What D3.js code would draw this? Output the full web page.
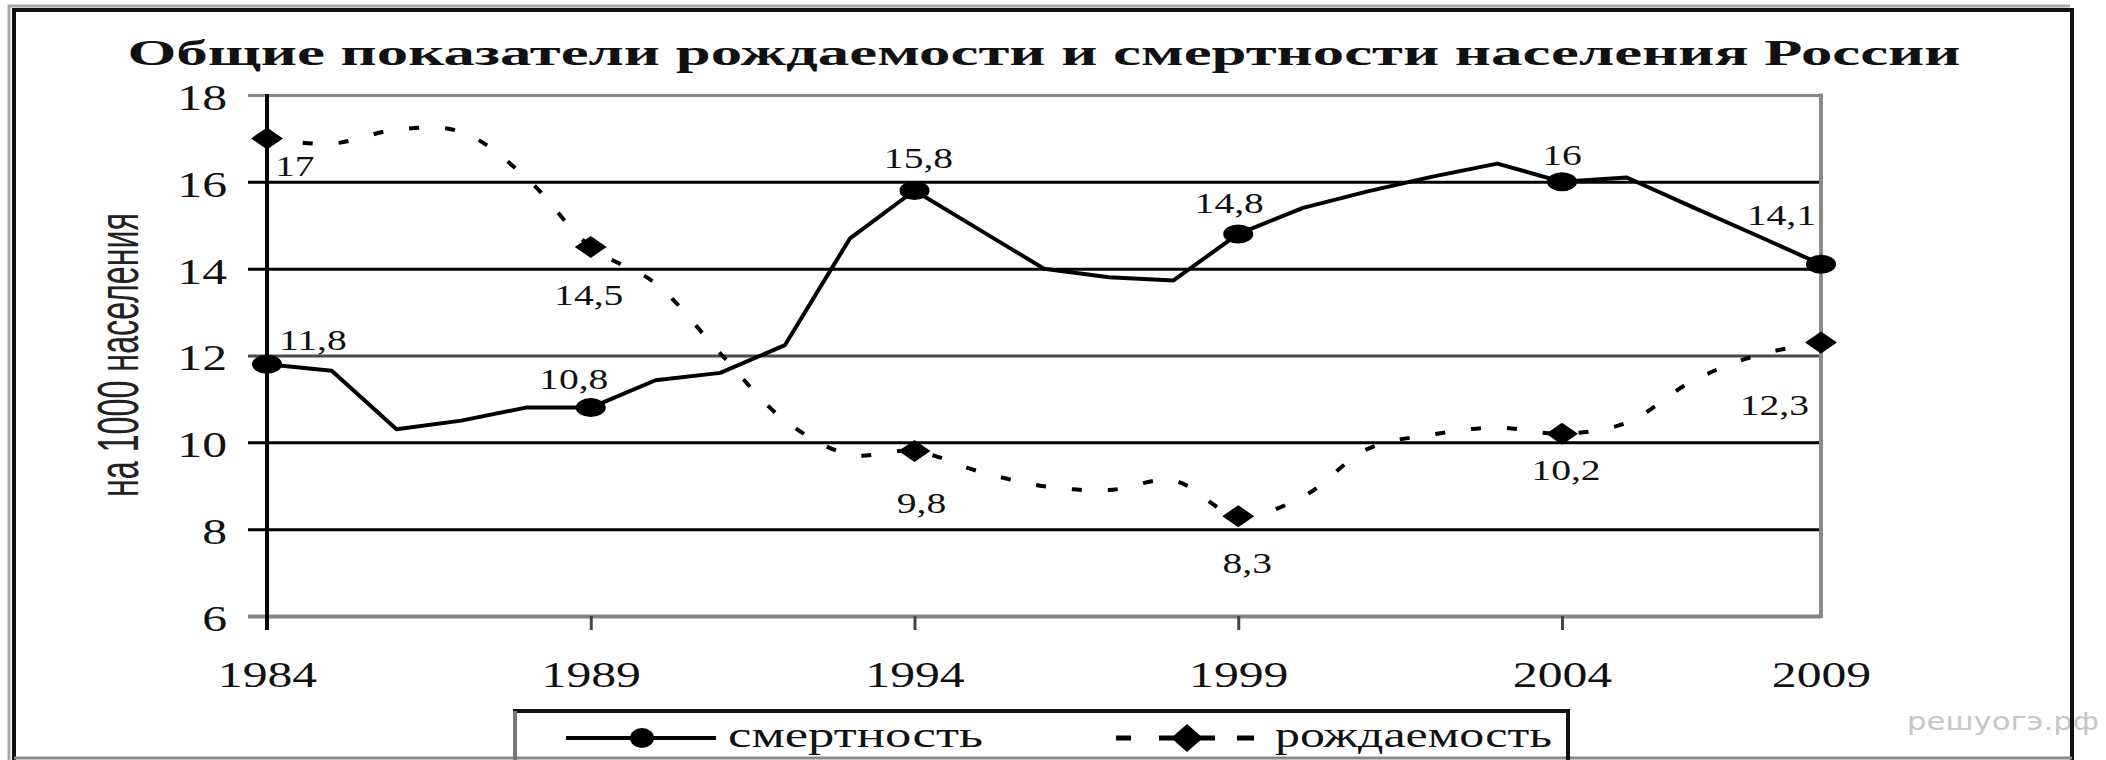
<!DOCTYPE html>
<html>
<head>
<meta charset="utf-8">
<script src="https://cdn.jsdelivr.net/npm/d3@7"></script>
<style>
  body { margin: 0; background: #fff; }
  svg { display: block; }
</style>
</head>
<body>
<div id="container"></div>
<script>
///sizes
let w = 2106,
h = 760;

///data
const years = [1984, 1985, 1986, 1987, 1988, 1989, 1990, 1991, 1992, 1993, 1994, 1995, 1996,
  1997, 1998, 1999, 2000, 2001, 2002, 2003, 2004, 2005, 2006, 2007, 2009];
const deaths = [11.8, 11.65, 10.3, 10.5, 10.8, 10.8, 11.43, 11.6, 12.24, 14.69, 15.8, 14.9, 14.0,
  13.8, 13.73, 14.8, 15.4, 15.78, 16.12, 16.42, 16.0, 16.1, 15.43, 14.77, 14.1];
const births = [17.0, 16.88, 17.2, 17.15, 16.1, 14.5, 13.66, 12.05, 10.5, 9.72, 9.8, 9.33, 8.99,
  8.9, 9.12, 8.3, 8.75, 9.85, 10.18, 10.34, 10.2, 10.45, 11.4, 12.0, 12.3];
const markerYears = [1984, 1989, 1994, 1999, 2004, 2009];
const yTicks = [6, 8, 10, 12, 14, 16, 18];
const title = "Общие показатели рождаемости и смертности населения России";
const yTitle = "на 1000 населения";
const seriesNames = ["смертность", "рождаемость"];

const serif = "'Liberation Serif', 'Times New Roman', serif";

///svg
let svg = d3.select("#container").
append("svg").
attr("width", w).
attr("height", h);

///scales
let x = d3.scalePoint().
domain(years).
range([267, 1821]);
let y = d3.scaleLinear().
domain([6, 18]).
range([616, 95]);

///watermark (under the frame)
svg.append("text").
attr("x", 1907).
attr("y", 730).
attr("textLength", 192).
attr("lengthAdjust", "spacingAndGlyphs").
style("font-family", "'DejaVu Sans', sans-serif").
style("font-size", "25px").
style("fill", "#c6c6c6").
text("решуогэ.рф");

///outer frame
svg.append("path").
attr("d", "M9,760 V6 H2070").
attr("fill", "none").
attr("stroke", "#a8a8a8").
attr("stroke-width", 3);
svg.append("path").
attr("d", "M14,760 V10 H2072 V760").
attr("fill", "none").
attr("stroke", "#111").
attr("stroke-width", 4);
svg.append("line").
attr("x1", 14).attr("x2", 2072).
attr("y1", 758).attr("y2", 758).
attr("stroke", "#8a8a8a").
attr("stroke-width", 3);

///title
svg.append("text").
attr("x", 1044).
attr("y", 65).
attr("text-anchor", "middle").
attr("textLength", 1833).
attr("lengthAdjust", "spacingAndGlyphs").
style("font-family", serif).
style("font-weight", "bold").
style("font-size", "35px").
style("fill", "#111").
text(title);

///gridlines
let grid = svg.append("g").
attr("transform", "translate(248,0)").
call(d3.axisRight(y).tickValues(yTicks).tickSize(1821 - 248).tickFormat(""));
grid.select(".domain").remove();
grid.selectAll(".tick line").
attr("stroke", d => d === 18 || d === 6 ? "#858585" : d === 12 ? "#4a4a4a" : "#000").
attr("stroke-width", d => d === 6 ? 4 : 3);

///right border of plot
svg.append("line").
attr("x1", 1821).attr("x2", 1821).
attr("y1", y(18) - 1.5).attr("y2", y(6) + 2).
attr("stroke", "#8a8a8a").
attr("stroke-width", 4);

///X-Axis
let xAxis = svg.append("g").
attr("transform", "translate(0," + y(6) + ")").
call(d3.axisBottom(x).tickValues(markerYears).tickSize(14).tickPadding(0));
xAxis.select(".domain").remove();
xAxis.selectAll(".tick line").
attr("stroke", "#444").
attr("stroke-width", 3).
attr("opacity", d => d === 2009 ? 0 : 1);
xAxis.selectAll(".tick text").
attr("y", 71).
attr("dy", 0).
attr("transform", "scale(1.38,1)").
style("font-family", serif).
style("font-size", "36px").
style("fill", "#111");

///Y-Axis
let yAxis = svg.append("g").
attr("transform", "translate(267,0)").
call(d3.axisLeft(y).tickValues(yTicks).tickSize(0).tickPadding(29));
yAxis.select(".domain").remove();
yAxis.selectAll(".tick text").
attr("dy", "0.4em").
attr("transform", "scale(1.38,1)").
style("font-family", serif).
style("font-size", "36px").
style("fill", "#111");

///y axis line
svg.append("line").
attr("x1", 267).attr("x2", 267).
attr("y1", y(18) - 1).attr("y2", y(6) + 14).
attr("stroke", "#000").
attr("stroke-width", 4);

///y title
svg.append("text").
attr("transform", "translate(138,355) scale(1.8,1) rotate(-90)").
attr("text-anchor", "middle").
attr("textLength", 284).
attr("lengthAdjust", "spacingAndGlyphs").
style("font-family", "'Liberation Sans Narrow', 'Arial Narrow', 'Liberation Sans', sans-serif").
style("font-size", "32px").
style("fill", "#222").
text(yTitle);

///lines
let deathLine = d3.line().
x((d, i) => x(years[i])).
y(d => y(d));
let birthLine = d3.line().
x((d, i) => x(years[i])).
y(d => y(d)).
curve(d3.curveCatmullRom.alpha(0.5));

svg.append("path").
datum(births).
attr("d", birthLine).
attr("fill", "none").
attr("stroke", "#000").
attr("stroke-width", 4).
attr("stroke-dasharray", "10,26");

svg.append("path").
datum(deaths).
attr("d", deathLine).
attr("fill", "none").
attr("stroke", "#000").
attr("stroke-width", 4).
attr("stroke-linejoin", "round");

///markers
const diamond = (cx, cy, rw, rh) => `M${cx - rw},${cy} L${cx},${cy - rh} L${cx + rw},${cy} L${cx},${cy + rh} Z`;

svg.selectAll(".dmark").
data(markerYears).
enter().
append("ellipse").
attr("class", "dmark").
attr("cx", d => x(d)).
attr("cy", d => y(deaths[years.indexOf(d)])).
attr("rx", 15).
attr("ry", 9.5).
attr("fill", "#000");

svg.selectAll(".bmark").
data(markerYears).
enter().
append("path").
attr("class", "bmark").
attr("d", d => diamond(x(d), y(births[years.indexOf(d)]), 16, 11)).
attr("fill", "#000");

///value labels
const fmt = v => String(v).replace(".", ",");
const deathLabelPos = [[12, -14, "start"], [-17, -19, "middle"], [4, -23, "middle"],
  [-9, -21, "middle"], [0, -17, "middle"], [-5, -39, "end"]];
const birthLabelPos = [[8, 38, "start"], [-2, 58, "middle"], [7, 62, "middle"],
  [9, 57, "middle"], [4, 46, "middle"], [-12, 73, "end"]];

function addLabels(values, pos, cls) {
  svg.selectAll("." + cls).
  data(markerYears).
  enter().
  append("text").
  attr("class", cls).
  attr("transform", (d, i) => {
    let v = values[years.indexOf(d)];
    return "translate(" + (x(d) + pos[i][0]) + "," + (y(v) + pos[i][1]) + ") scale(1.32,1)";
  }).
  attr("text-anchor", (d, i) => pos[i][2]).
  style("font-family", serif).
  style("font-size", "30px").
  style("fill", "#111").
  text(d => fmt(values[years.indexOf(d)]));
}
addLabels(deaths, deathLabelPos, "dlab");
addLabels(births, birthLabelPos, "blab");

///Legend
const legend = svg.append("g").attr("id", "legend");
legend.append("path").
attr("d", "M515,770 V711 H1568 V770").
attr("fill", "none").
attr("stroke", "#111").
attr("stroke-width", 4);
legend.append("line").
attr("x1", 515).attr("x2", 515).
attr("y1", 711).attr("y2", 760).
attr("stroke", "#777").
attr("stroke-width", 4);

legend.append("line").
attr("x1", 566).attr("x2", 716).
attr("y1", 738).attr("y2", 738).
attr("stroke", "#000").
attr("stroke-width", 4);
legend.append("ellipse").
attr("cx", 642).attr("cy", 738).
attr("rx", 12).attr("ry", 10).
attr("fill", "#000");

legend.append("line").
attr("x1", 1116).attr("x2", 1254).
attr("y1", 738).attr("y2", 738).
attr("stroke", "#000").
attr("stroke-width", 5).
attr("stroke-dasharray", "15,28,56,22,17");
legend.append("path").
attr("d", diamond(1187, 738, 16, 14)).
attr("fill", "#000");

legend.selectAll(".ltext").
data(seriesNames).
enter().
append("text").
attr("class", "ltext").
attr("x", (d, i) => i === 0 ? 728 : 1275).
attr("y", 747).
attr("textLength", (d, i) => i === 0 ? 255 : 277).
attr("lengthAdjust", "spacingAndGlyphs").
style("font-family", serif).
style("font-size", "36px").
style("fill", "#111").
text(d => d);
</script>
</body>
</html>
